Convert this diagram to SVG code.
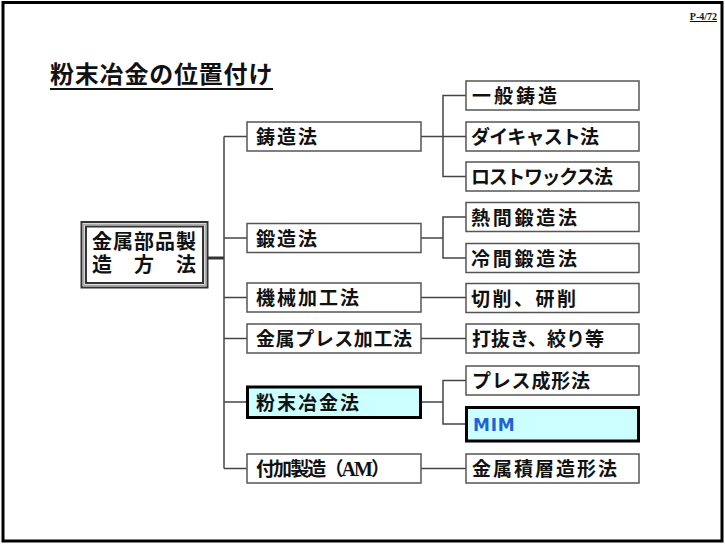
<svg xmlns="http://www.w3.org/2000/svg" width="725" height="545" viewBox="0 0 725 545">
<style>
.t{font-family:"Noto Sans CJK JP","Noto Sans CJK SC",sans-serif;font-weight:bold;fill:#111;}
.m{font-size:19px;}
.box{fill:#fff;stroke:#555;stroke-width:1.5;}
.hl{fill:#ccffff;stroke:#000;stroke-width:3;}
.ln{fill:none;stroke:#444;stroke-width:1.5;}
</style>
<rect x="0" y="0" width="725" height="545" fill="#fff"/>
<rect x="3" y="2.5" width="719" height="538.5" fill="none" stroke="#000" stroke-width="3"/>
<text x="717" y="20" text-anchor="end" font-family="Liberation Serif,serif" font-weight="bold" font-size="10" text-decoration="underline" fill="#111">P-4/72</text>
<g id="title">
<text class="t" x="50" y="83" font-size="24" letter-spacing="0.8">粉末冶金の位置付け</text>
<line x1="50" y1="89" x2="273" y2="89" stroke="#111" stroke-width="2"/>
</g>
<g id="connectors">
<line x1="208" y1="258" x2="224" y2="258" stroke="#333" stroke-width="3"/>
<line class="ln" x1="224" y1="136.5" x2="224" y2="468.5"/>
<line class="ln" x1="224" y1="136.5" x2="247" y2="136.5"/>
<line class="ln" x1="224" y1="238" x2="247" y2="238"/>
<line class="ln" x1="224" y1="297.5" x2="247" y2="297.5"/>
<line class="ln" x1="224" y1="338.5" x2="247" y2="338.5"/>
<line class="ln" x1="224" y1="402" x2="247" y2="402"/>
<line class="ln" x1="224" y1="468.5" x2="247" y2="468.5"/>
<line class="ln" x1="421" y1="136.5" x2="443" y2="136.5"/>
<path class="ln" d="M466 95.5H443V176.5H466M443 136.5H466"/>
<line class="ln" x1="421" y1="238" x2="443" y2="238"/>
<path class="ln" d="M466 217H443V258H466"/>
<line class="ln" x1="421" y1="297.5" x2="466" y2="297.5"/>
<line class="ln" x1="421" y1="338.5" x2="466" y2="338.5"/>
<line class="ln" x1="421" y1="402" x2="443" y2="402"/>
<path class="ln" d="M466 380.5H443V424H466"/>
<line class="ln" x1="421" y1="468.5" x2="466" y2="468.5"/>
</g>
<g id="root">
<rect x="81.5" y="222" width="126" height="65.5" fill="#fff" stroke="#333" stroke-width="2"/>
<rect x="83.8" y="224.2" width="121.4" height="61.1" fill="none" stroke="#999" stroke-width="1.2"/>
<rect x="86" y="226.5" width="117" height="56.5" fill="#fff" stroke="#333" stroke-width="2"/>
<text class="t" font-size="20"><tspan x="92" y="249" letter-spacing="1">金属部品製</tspan><tspan x="92" y="272">造</tspan><tspan x="134" y="272">方</tspan><tspan x="176" y="272">法</tspan></text>
</g>
<g id="n-casting"><rect class="box" x="247" y="122" width="174" height="29"/><text class="t m" x="256" y="144" textLength="61" lengthAdjust="spacing">鋳造法</text></g>
<g id="n-forging"><rect class="box" x="247" y="223.5" width="174" height="29"/><text class="t m" x="256" y="245.5" textLength="61" lengthAdjust="spacing">鍛造法</text></g>
<g id="n-machining"><rect class="box" x="247" y="283" width="174" height="29"/><text class="t m" x="256" y="305" textLength="103" lengthAdjust="spacing">機械加工法</text></g>
<g id="n-press"><rect class="box" x="247" y="324" width="174" height="29"/><text class="t m" x="256" y="346" textLength="156" lengthAdjust="spacing">金属プレス加工法</text></g>
<g id="n-pm"><rect class="hl" x="247.5" y="387" width="173" height="30.5"/><text class="t m" x="256" y="410" textLength="103" lengthAdjust="spacing">粉末冶金法</text></g>
<g id="n-am"><rect class="box" x="247" y="454" width="174" height="29"/><text class="t m" x="256" y="476" textLength="134" lengthAdjust="spacing">付加製造（<tspan font-family="Liberation Serif,serif" font-size="20">AM</tspan>）</text></g>
<g id="n-general"><rect class="box" x="466" y="81" width="173" height="29"/><text class="t m" x="472" y="103" textLength="85" lengthAdjust="spacing">一般鋳造</text></g>
<g id="n-diecast"><rect class="box" x="466" y="122" width="173" height="29"/><text class="t m" x="471" y="144" textLength="128" lengthAdjust="spacing">ダイキャスト法</text></g>
<g id="n-lostwax"><rect class="box" x="466" y="162" width="173" height="29"/><text class="t m" x="471" y="184" textLength="142" lengthAdjust="spacing">ロストワックス法</text></g>
<g id="n-hot"><rect class="box" x="466" y="202.5" width="173" height="29"/><text class="t m" x="471" y="224.5" textLength="106" lengthAdjust="spacing">熱間鍛造法</text></g>
<g id="n-cold"><rect class="box" x="466" y="243.5" width="173" height="29"/><text class="t m" x="471" y="265.5" textLength="106" lengthAdjust="spacing">冷間鍛造法</text></g>
<g id="n-cutting"><rect class="box" x="466" y="283.5" width="173" height="29"/><text class="t m" x="471" y="305.5" textLength="105" lengthAdjust="spacing">切削、研削</text></g>
<g id="n-punch"><rect class="box" x="466" y="324" width="173" height="29"/><text class="t m" x="472" y="346" textLength="132" lengthAdjust="spacing">打抜き、絞り等</text></g>
<g id="n-pressform"><rect class="box" x="466" y="366" width="173" height="29"/><text class="t m" x="472" y="388" textLength="118" lengthAdjust="spacing">プレス成形法</text></g>
<g id="n-mim"><rect class="hl" x="466.5" y="407.5" width="172" height="33.5"/><text x="473" y="431" font-family="DejaVu Sans,sans-serif" font-weight="bold" font-size="17" letter-spacing="0.8" fill="#1e62d8">MIM</text></g>
<g id="n-metalam"><rect class="box" x="466" y="454" width="173" height="29"/><text class="t m" x="472" y="476" textLength="145" lengthAdjust="spacing">金属積層造形法</text></g>
</svg>
